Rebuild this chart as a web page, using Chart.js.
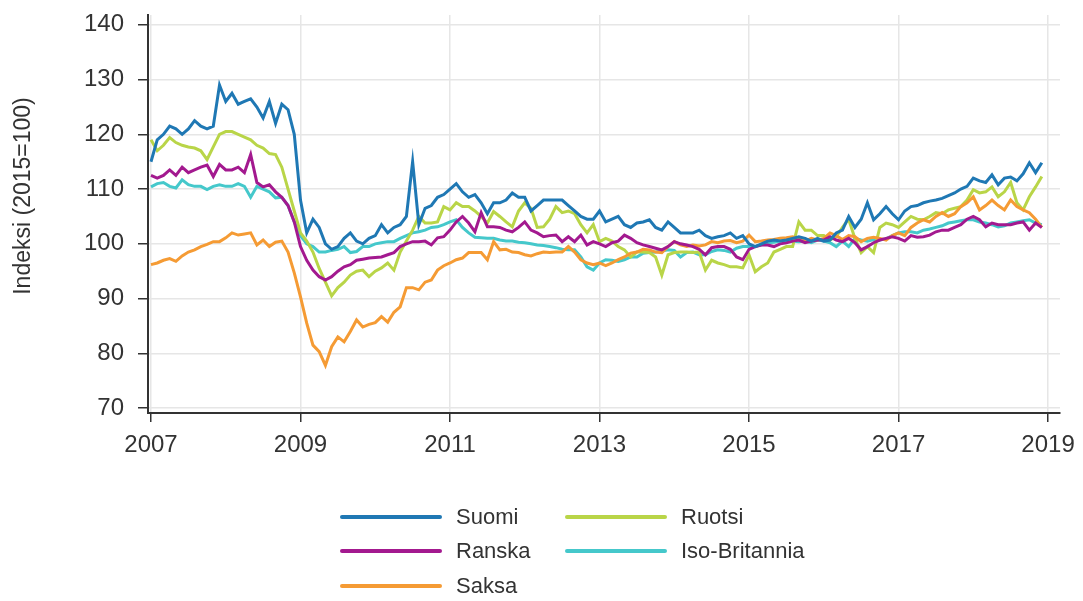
<!DOCTYPE html>
<html>
<head>
<meta charset="utf-8">
<script src="https://cdn.jsdelivr.net/npm/chart.js@4/dist/chart.umd.min.js"></script>
<style>
  body { margin: 0; background: #fff; font-family: "Liberation Sans", Arial, sans-serif; }
  #wrap { position: relative; width: 1083px; height: 601px; }
  #legend { position: absolute; left: 0; top: 0; width: 1083px; height: 601px; pointer-events: none; }
  .item { position: absolute; display: flex; align-items: center; font-size: 22px; color: #333; }
  .swatch { width: 102px; height: 4px; border-radius: 2px; margin-right: 14px; }
  #ytitle { position: absolute; left: 22px; top: 196px; transform: translate(-50%, -50%) rotate(-90deg);
            white-space: nowrap; font-size: 23px; color: #333; }
</style>
</head>
<body>
<div id="wrap">
  <canvas id="chart" width="1083" height="601"></canvas>
  <div id="ytitle">Indeksi (2015=100)</div>
  <div id="legend"></div>
</div>
<script>
const startYear = 2007;
const xTicks = [2007, 2009, 2011, 2013, 2015, 2017, 2019];
const yTicks = [70, 80, 90, 100, 110, 120, 130, 140];

// monthly index values, Jan 2007 - Dec 2018
const suomi = [
  115, 119, 120, 121.5, 121, 120, 121, 122.5, 121.5, 121, 121.5, 129,
  126, 127.5, 125.5, 126, 126.5, 125, 123, 126, 122, 125.5, 124.5, 120,
  108, 102, 104.5, 103, 100, 99, 99.5, 101, 102, 100.5, 100, 101,
  101.5, 103.5, 102, 103, 103.5, 105, 115, 103.5, 106.5, 107, 108.5, 109,
  110, 111, 109.5, 108.5, 109, 107.5, 105.5, 107.5, 107.5, 108, 109.3, 108.5,
  108.5, 106, 107, 108, 108, 108, 108, 107, 106, 105, 104.5, 104.5,
  106, 104, 104.5, 105, 103.5, 103, 103.8, 104, 104.4, 103, 102.5, 104,
  103, 102, 102, 102, 102.5, 101.5, 101, 101.3, 101.5, 102, 101, 101.5,
  100, 99.5, 100, 100.5, 100.7, 100.5, 100.7, 101, 101.3, 101, 100.5, 101,
  100.5, 100.7, 102, 102.5, 105, 103, 104.5, 107.5, 104.4, 105.5, 106.8, 105.5,
  104.4, 106, 106.8, 107, 107.5, 107.8, 108, 108.3, 108.8, 109.3, 110, 110.5,
  112, 111.5, 111.2, 112.6, 110.8, 112, 112.2, 111.5, 112.8, 114.8, 113, 114.8
];
const ruotsi = [
  119, 117, 118, 119.4, 118.5, 118, 117.7, 117.5, 117, 115.4, 117.7, 120,
  120.5, 120.5, 120, 119.5, 119, 118, 117.5, 116.5, 116.3, 114, 110, 106,
  102, 100.5, 98.5, 95.5, 93, 90.5, 92, 93, 94.3, 95, 95.2, 94,
  95, 95.6, 96.5, 95.2, 98.5, 100.5, 102.5, 105, 103.8, 103.8, 104, 106.8,
  106.2, 107.5, 106.8, 106.8, 106, 105, 103.8, 105.9, 105, 104, 103.1, 106,
  107.5, 106.5, 103, 103.1, 104.5, 106.8, 105.7, 106, 105.5, 103.5, 102, 103.5,
  100.4, 101, 100.5, 99.5, 98.9, 97.6, 98.5, 98.5, 98.4, 97.6, 94.3, 98,
  98.4, 98.5, 98.5, 98.4, 98.5, 95.2, 97, 96.5, 96.2, 95.8, 95.8, 95.6,
  98, 94.9, 95.8, 96.5, 98.5, 99, 99.5, 99.5, 104, 102.5, 102.5, 101.5,
  101.5, 100.7, 101.3, 103, 104.5, 101, 98.4, 99.5, 98.4, 103, 103.8, 103.5,
  103, 104, 105, 104.5, 104.4, 105, 105.7, 105.5, 106.2, 106.5, 106.8, 108,
  109.9, 109.3, 109.5, 110.4, 108.6, 109.5, 111.2, 107.5, 106.2, 108.6, 110.4, 112.3
];
const ranska = [
  112.5, 112, 112.5, 113.5, 112.5, 114, 113, 113.5, 114, 114.4, 112.3, 114.5,
  113.5, 113.5, 114, 113, 116.3, 111.2, 110.4, 110.8, 109.5, 108.5, 107, 104,
  99.5, 97, 95.2, 94, 93.4, 94, 95, 95.8, 96.2, 97, 97.2, 97.4,
  97.5, 97.6, 98, 98.4, 99.5, 100, 100.4, 100.4, 100.5, 99.8, 101.1, 101.3,
  102.5, 104, 105, 103.8, 102.2, 105.7, 103.1, 103.1, 103, 102.5, 102.2, 103,
  104, 102.5, 102, 101.3, 101.5, 101.6, 100.4, 101.3, 100.4, 101.6, 99.8, 100.4,
  100, 99.5, 100.2, 100.5, 101.6, 101, 100.2, 99.8, 99.5, 99.2, 98.9, 99.5,
  100.4, 100, 99.8, 99.5, 99, 98, 99.3, 99.5, 99.5, 99, 97.6, 97.1,
  99, 99.5, 99.8, 99.8, 99.5, 100, 100.2, 100.5, 100.7, 100.2, 100.5, 100.7,
  100.7, 101.3, 100.7, 100.4, 101, 100.2, 98.9, 99.5, 100.2, 100.7, 101, 101.3,
  101, 100.5, 101.5, 101.2, 101.3, 101.6, 102.2, 102.5, 102.5, 103, 103.5, 104.5,
  105, 104.4, 103.1, 103.8, 103.5, 103.5, 103.5, 103.8, 104, 102.5, 103.8, 103
];
const isoBritannia = [
  110.4, 111, 111.2, 110.5, 110.2, 111.7, 110.8, 110.5, 110.5, 109.9, 110.5, 110.8,
  110.5, 110.5, 111, 110.5, 108.5, 110.5, 110, 109.5, 108.4, 108.5, 107, 104,
  101.5, 100, 99.5, 98.5, 98.5, 98.8, 99, 99.5, 98.4, 98.6, 99.5, 99.5,
  100, 100.2, 100.4, 100.4, 101, 101.5, 102, 102.2, 102.5, 103, 103.1, 103.5,
  104, 104.4, 103, 102, 101.2, 101.1, 101, 101, 100.7, 100.5, 100.5, 100.3,
  100.2, 100, 99.8, 99.7, 99.5, 99.3, 99, 98.9, 98.9, 97.6, 95.8, 95.2,
  96.5, 97.1, 97, 96.8, 97.1, 97.6, 97.6, 98.3, 98.4, 98.5, 98.7, 98.9,
  98.8, 97.6, 98.4, 98.5, 98, 98, 98.6, 98.9, 98.8, 98.5, 99.2, 99.5,
  99.5, 99.5, 99.8, 100.2, 100.3, 100.5, 100.7, 100.5, 100.4, 100.5, 100.2, 100.7,
  100.5, 100.2, 99.5, 100.5, 99.5, 101, 100.7, 100.5, 100.8, 100.7, 100.9, 101.5,
  102, 102.2, 102.2, 102, 102.5, 102.7, 103, 103.3, 103.8, 104, 104.2, 104.4,
  104.4, 104, 103.8, 103.5, 103.1, 103.3, 103.8, 104, 104.2, 104.4, 103.8, 103.5
];
const saksa = [
  96.2, 96.5, 97, 97.3, 96.8, 97.8, 98.5, 98.9, 99.5, 99.9, 100.4, 100.4,
  101.1, 102, 101.6, 101.8, 102, 99.8, 100.7, 99.5, 100.3, 100.5, 98.5, 94.7,
  90.3, 85.5, 81.5, 80.3, 77.8, 81.2, 83, 82.1, 84, 86.1, 84.8, 85.3,
  85.6, 86.7, 85.7, 87.5, 88.5, 92, 92, 91.6, 93, 93.4, 95.2, 96,
  96.5, 97.1, 97.4, 98.4, 98.4, 98.4, 97.1, 100.4, 98.9, 99, 98.5, 98.4,
  98, 97.8, 98.2, 98.5, 98.4, 98.5, 98.5, 99.5, 98.5, 97.1, 96.5, 96.2,
  96.5, 96, 96.5, 97.1, 97.6, 98.3, 98.5, 99, 98.9, 98.5, 98.4, 99.5,
  100.4, 99.8, 99.5, 99.8, 99.6, 99.8, 100.4, 100.2, 100.5, 100.6, 100.2, 100.5,
  101.6, 100.4, 100.5, 100.7, 100.8, 101, 101.1, 101.3, 101, 100.5, 101, 100.7,
  101, 102, 101.5, 100.8, 101.5, 101.3, 100.4, 101, 101.2, 101, 100.7, 101.5,
  102, 101.5, 103, 103.8, 104.4, 104, 105, 105.7, 105, 105.5, 106.8, 107.5,
  108.6, 106.2, 107, 108, 107, 106.2, 108, 106.8, 106.2, 105.7, 104.5, 103
];

const series = [
  { label: 'Suomi', data: suomi, color: '#1f78b4' },
  { label: 'Ranska', data: ranska, color: '#a3198f' },
  { label: 'Saksa', data: saksa, color: '#f59b34' },
  { label: 'Ruotsi', data: ruotsi, color: '#b9d548' },
  { label: 'Iso-Britannia', data: isoBritannia, color: '#45c8cb' }
];

function toPoints(values) {
  return values.map((v, i) => ({ x: startYear + i / 12, y: v }));
}

const axisColor = '#333';
const gridColor = '#e6e6e6';
const tickFont = { family: '"Liberation Sans", Arial, sans-serif', size: 24 };

new Chart(document.getElementById('chart'), {
  type: 'line',
  data: {
    datasets: series.map(s => ({
      label: s.label,
      data: toPoints(s.data),
      borderColor: s.color,
      backgroundColor: s.color,
      borderWidth: 3,
      pointRadius: 0,
      tension: 0
    }))
  },
  options: {
    responsive: false,
    animation: false,
    layout: { padding: { top: 15, right: 23, left: 0, bottom: 0 } },
    plugins: { legend: { display: false }, tooltip: { enabled: false } },
    scales: {
      x: {
        type: 'linear',
        min: 2006.96,
        max: 2019.16,
        afterBuildTicks: scale => { scale.ticks = xTicks.map(v => ({ value: v })); },
        afterFit: scale => { scale.height = 188; scale.paddingLeft = 0; scale.paddingRight = 0; },
        ticks: { color: axisColor, font: tickFont, padding: 9, callback: v => String(v) },
        grid: { color: gridColor, tickColor: axisColor, tickLength: 9, lineWidth: 1.5 },
        border: { display: true, color: axisColor, width: 2 }
      },
      y: {
        min: 69.1,
        max: 141.8,
        afterBuildTicks: scale => { scale.ticks = yTicks.map(v => ({ value: v })); },
        afterFit: scale => { scale.width = 148; scale.paddingTop = 0; scale.paddingBottom = 0; },
        ticks: { color: axisColor, font: tickFont, padding: 14 },
        grid: { color: gridColor, tickColor: axisColor, tickLength: 10, lineWidth: 1.5 },
        border: { display: true, color: axisColor, width: 2 }
      }
    }
  }
});

// two-column legend under the plot
const legendSlots = [
  { name: 'Suomi', left: 340, top: 517 },
  { name: 'Ruotsi', left: 565, top: 517 },
  { name: 'Ranska', left: 340, top: 551 },
  { name: 'Iso-Britannia', left: 565, top: 551 },
  { name: 'Saksa', left: 340, top: 586 }
];
const legendEl = document.getElementById('legend');
legendSlots.forEach(slot => {
  const s = series.find(d => d.label === slot.name);
  const item = document.createElement('div');
  item.className = 'item';
  item.style.left = slot.left + 'px';
  item.style.top = (slot.top - 14) + 'px';
  item.style.height = '28px';
  const sw = document.createElement('span');
  sw.className = 'swatch';
  sw.style.background = s.color;
  const tx = document.createElement('span');
  tx.textContent = s.label;
  item.appendChild(sw);
  item.appendChild(tx);
  legendEl.appendChild(item);
});
</script>
</body>
</html>
